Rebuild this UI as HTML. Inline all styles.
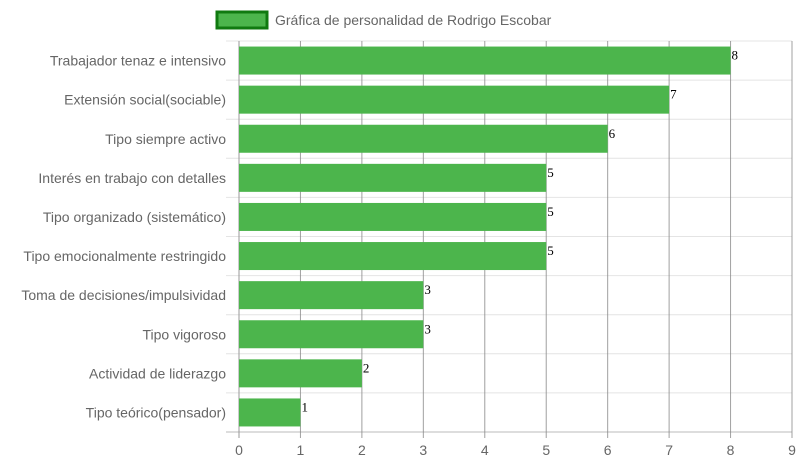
<!DOCTYPE html>
<html><head><meta charset="utf-8"><style>
body{margin:0;background:#fff;width:800px;height:466px;overflow:hidden}
text{font-family:"Liberation Sans",sans-serif}
</style></head><body>
<svg id="chart" width="800" height="466"></svg>
<script>
const categories=["Trabajador tenaz e intensivo","Extensión social(sociable)","Tipo siempre activo","Interés en trabajo con detalles","Tipo organizado (sistemático)","Tipo emocionalmente restringido","Toma de decisiones/impulsividad","Tipo vigoroso","Actividad de liderazgo","Tipo teórico(pensador)"];
const values=[8,7,6,5,5,5,3,3,2,1];
const ticks=[0,1,2,3,4,5,6,7,8,9];
const svg=document.getElementById('chart');
const NS='http://www.w3.org/2000/svg';
const X0=239,X1=792,Y0=41,Y1=432,XMAX=9;
const x=v=>X0+(v/XMAX)*(X1-X0);
const band=(Y1-Y0)/categories.length;
const y=i=>Y0+i*band;
function mk(t,a,p){const e=document.createElementNS(NS,t);for(const k in a)e.setAttribute(k,a[k]);(p||svg).appendChild(e);return e;}
// horizontal grid
for(let i=0;i<=categories.length;i++){
 const l=mk('line',{x1:226,x2:X1,y1:y(i),y2:y(i),stroke:i==categories.length?'#bbb':'#e4e4e4','stroke-width':1});
 
 
}
// vertical grid + ticks
ticks.forEach(t=>{
 const l=mk('line',{x1:x(t),x2:x(t),y1:Y0,y2:Y1+6,stroke:t==0?'#999':'#888','stroke-width':1,'stroke-opacity':t==0?1:0.8});
 
 
 const tx=mk('text',{x:x(t),y:455,'text-anchor':'middle','font-size':14,fill:'#666'});
 tx.textContent=t;
 
 
});
categories.forEach((c,i)=>{
 const cy=y(i)+band/2;
 const lb=mk('text',{x:226,y:cy+5,'text-anchor':'end','font-size':14,fill:'#666'});
 lb.textContent=c;
 
 
 const r=mk('rect',{x:X0,y:cy-14,width:x(values[i])-X0,height:28,fill:'#4cb54c'});
 
 
 const v=mk('text',{x:x(values[i])+1,y:cy-1,'font-size':13,fill:'#000','font-family':'Liberation Serif'});
 v.setAttribute('style','font-family:"Liberation Serif",serif');
 v.textContent=values[i];
 
 
});
// legend
const lr=mk('rect',{x:217,y:12,width:50,height:16,fill:'#4cb54c',stroke:'#107a10','stroke-width':3});


const lt=mk('text',{x:275,y:25,'font-size':14,fill:'#666'});
lt.textContent='Gráfica de personalidad de Rodrigo Escobar';


</script>
</body></html>
